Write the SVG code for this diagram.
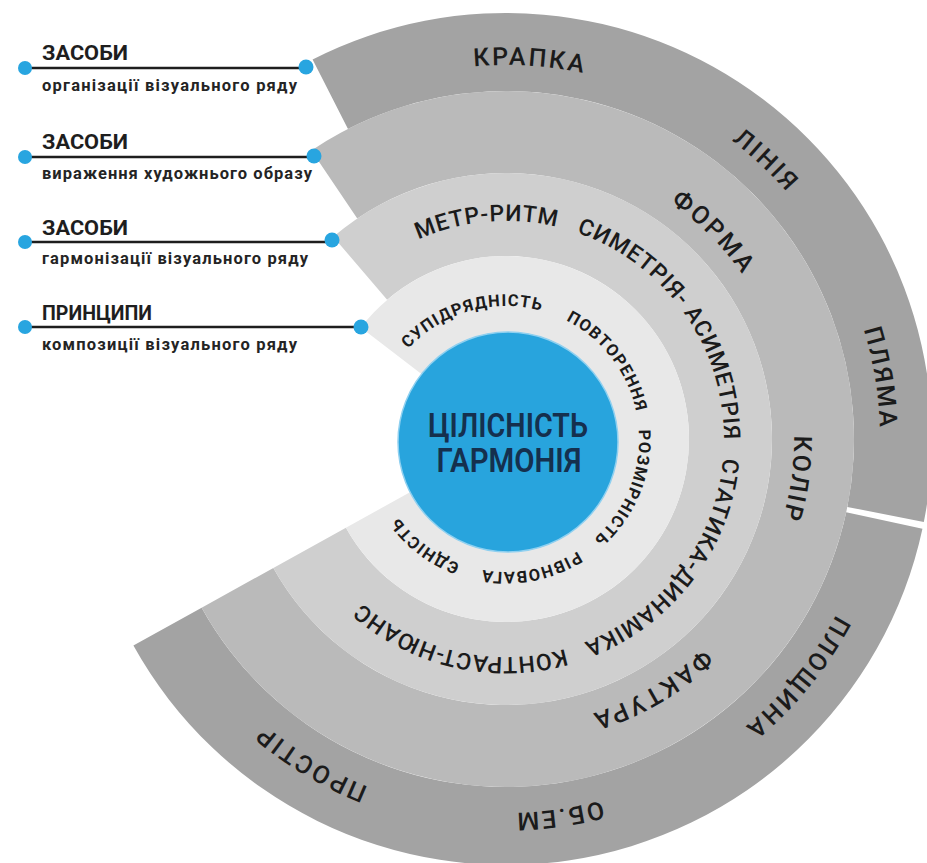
<svg xmlns="http://www.w3.org/2000/svg" width="927" height="863" viewBox="0 0 927 863">
  <style>
    .ring-outer { fill: #a3a3a3; }
    .ring-3 { fill: #bababa; }
    .ring-2 { fill: #cfcfcf; }
    .ring-1 { fill: #e8e8e8; }
    .core { fill: #28a4dd; stroke: #8fd0f0; stroke-width: 1.5; }
    .lbl { font-family: Roboto, "Liberation Sans", sans-serif; fill: #1b1b1b; text-anchor: middle; }
    .l4 { font-size: 25px; font-weight: 500; letter-spacing: 2.5px; }
    .l3 { font-size: 25px; font-weight: 500; letter-spacing: 2.5px; }
    .l2 { font-size: 23px; font-weight: 500; letter-spacing: 0.8px; }
    .l1 { font-size: 16.5px; font-weight: 700; letter-spacing: 1.2px; }
    .core-txt { font-family: Roboto, "Liberation Sans", sans-serif; font-size: 34px; font-weight: 600; fill: #15304e; text-anchor: middle; }
    .leg-title { font-family: Roboto, "Liberation Sans", sans-serif; font-size: 21px; font-weight: 700; fill: #1e1e1e; }
    .leg-sub { font-family: Roboto, "Liberation Sans", sans-serif; font-size: 16.5px; font-weight: 700; fill: #242424; }
    .wire { stroke: #1e1e1e; stroke-width: 2.5; fill: none; }
    .dot { fill: #28a5e0; }
  </style>
  <defs>
    <!-- clockwise circles starting at the left point, used as text baselines -->
    <path id="arc374" d="M 132,439 A 374 374 0 1 1 880,439 A 374 374 0 1 1 132,439"/>
    <path id="arc288" d="M 218,439 A 288 288 0 1 1 794,439 A 288 288 0 1 1 218,439"/>
    <path id="arc218" d="M 288,439 A 218 218 0 1 1 724,439 A 218 218 0 1 1 288,439"/>
    <path id="arc133" d="M 373,439 A 133 133 0 1 1 639,439 A 133 133 0 1 1 373,439"/>
  </defs>

  <rect width="927" height="863" fill="#ffffff"/>

  <!-- outer band: upper piece -->
  <g id="ring-outer-upper">
    <path class="ring-outer" d="M 312.60,59.43 A 426 426 0 0 1 923.82,522.11 L 847.32,506.89 A 348 348 0 0 0 348.01,128.93 Z"/>
    <text class="lbl l4"><textPath href="#arc374" startOffset="611">КРАПКА</textPath></text>
    <text class="lbl l4"><textPath href="#arc374" startOffset="868">ЛІНІЯ</textPath></text>
    <text class="lbl l4"><textPath href="#arc374" startOffset="1114">ПЛЯМА</textPath></text>
  </g>

  <!-- outer band: lower piece -->
  <g id="ring-outer-lower">
    <path class="ring-outer" d="M 922.46,528.66 A 426 426 0 0 1 133.41,645.53 L 201.63,607.71 A 348 348 0 0 0 846.20,512.24 Z"/>
    <text class="lbl l4"><textPath href="#arc374" startOffset="1431">ПЛОЩИНА</textPath></text>
    <text class="lbl l4"><textPath href="#arc374" startOffset="1709">ОБ.ЕМ</textPath></text>
    <text class="lbl l4"><textPath href="#arc374" startOffset="1964">ПРОСТІР</textPath></text>
  </g>

  <!-- third band -->
  <g id="ring-3">
    <path class="ring-3" d="M 311.40,150.49 A 348 348 0 1 1 201.63,607.71 L 273.35,567.96 A 266 266 0 1 0 357.26,218.48 Z"/>
    <text class="lbl l3"><textPath href="#arc288" startOffset="679">ФОРМА</textPath></text>
    <text class="lbl l3"><textPath href="#arc288" startOffset="944">КОЛІР</textPath></text>
    <text class="lbl l3"><textPath href="#arc288" startOffset="1205">ФАКТУРА</textPath></text>
  </g>

  <!-- second band -->
  <g id="ring-2">
    <path class="ring-2" d="M 333.25,236.73 A 266 266 0 1 1 273.35,567.96 L 345.94,527.72 A 183 183 0 1 0 387.15,299.84 Z"/>
    <text class="lbl l2"><textPath href="#arc218" startOffset="323">МЕТР-РИТМ</textPath></text>
    <text class="lbl l2"><textPath href="#arc218" startOffset="550">СИМЕТРІЯ- АСИМЕТРІЯ</textPath></text>
    <text class="lbl l2"><textPath href="#arc218" startOffset="826">СТАТИКА-ДИНАМІКА</textPath></text>
    <text class="lbl l2"><textPath href="#arc218" startOffset="1076">КОНТРАСТ-НЮАНС</textPath></text>
  </g>

  <!-- inner band -->
  <g id="ring-1">
    <path class="ring-1" d="M 360.82,327.60 A 183 183 0 1 1 345.94,527.72 L 418.54,487.48 A 100 100 0 1 0 426.66,378.12 Z"/>
    <text class="lbl l1"><textPath href="#arc133" startOffset="172">СУПІДРЯДНІСТЬ</textPath></text>
    <text class="lbl l1"><textPath href="#arc133" startOffset="331">ПОВТОРЕННЯ</textPath></text>
    <text class="lbl l1"><textPath href="#arc133" startOffset="470">РОЗМІРНІСТЬ</textPath></text>
    <text class="lbl l1"><textPath href="#arc133" startOffset="601">РІВНОВАГА</textPath></text>
    <text class="lbl l1"><textPath href="#arc133" startOffset="713">ЄДНІСТЬ</textPath></text>
  </g>

  <!-- centre -->
  <g id="core">
    <circle class="core" cx="508" cy="442" r="110"/>
    <text class="core-txt" x="508" y="437" textLength="160" lengthAdjust="spacingAndGlyphs">ЦІЛІСНІСТЬ</text>
    <text class="core-txt" x="509" y="472" textLength="145" lengthAdjust="spacingAndGlyphs">ГАРМОНІЯ</text>
  </g>

  <!-- legend captions -->
  <g id="legend-1">
    <text class="leg-title" x="42" y="60" textLength="86" lengthAdjust="spacingAndGlyphs">ЗАСОБИ</text>
    <text class="leg-sub" x="42" y="91" textLength="255" lengthAdjust="spacing">організації візуального ряду</text>
  </g>
  <g id="legend-2">
    <text class="leg-title" x="42" y="149" textLength="86" lengthAdjust="spacingAndGlyphs">ЗАСОБИ</text>
    <text class="leg-sub" x="42" y="179" textLength="270" lengthAdjust="spacing">вираження художнього образу</text>
  </g>
  <g id="legend-3">
    <text class="leg-title" x="42" y="235" textLength="86" lengthAdjust="spacingAndGlyphs">ЗАСОБИ</text>
    <text class="leg-sub" x="42" y="264" textLength="266" lengthAdjust="spacing">гармонізації візуального ряду</text>
  </g>
  <g id="legend-4">
    <text class="leg-title" x="42" y="320" textLength="110" lengthAdjust="spacingAndGlyphs">ПРИНЦИПИ</text>
    <text class="leg-sub" x="42" y="350" textLength="255" lengthAdjust="spacing">композиції візуального ряду</text>
  </g>

  <!-- leader lines from captions to bands -->
  <g id="connectors">
    <line class="wire" x1="25" y1="68" x2="306" y2="68"/>
    <line class="wire" x1="25" y1="157" x2="314" y2="157"/>
    <line class="wire" x1="25" y1="242" x2="332" y2="242"/>
    <line class="wire" x1="25" y1="327" x2="361" y2="327"/>
    <circle class="dot" cx="25" cy="68" r="7"/>
    <circle class="dot" cx="306" cy="67" r="7.5"/>
    <circle class="dot" cx="25" cy="157" r="7"/>
    <circle class="dot" cx="314" cy="156" r="7.5"/>
    <circle class="dot" cx="25" cy="242" r="7"/>
    <circle class="dot" cx="332" cy="240" r="7.5"/>
    <circle class="dot" cx="25" cy="327" r="7"/>
    <circle class="dot" cx="361" cy="327" r="7.5"/>
  </g>
</svg>
